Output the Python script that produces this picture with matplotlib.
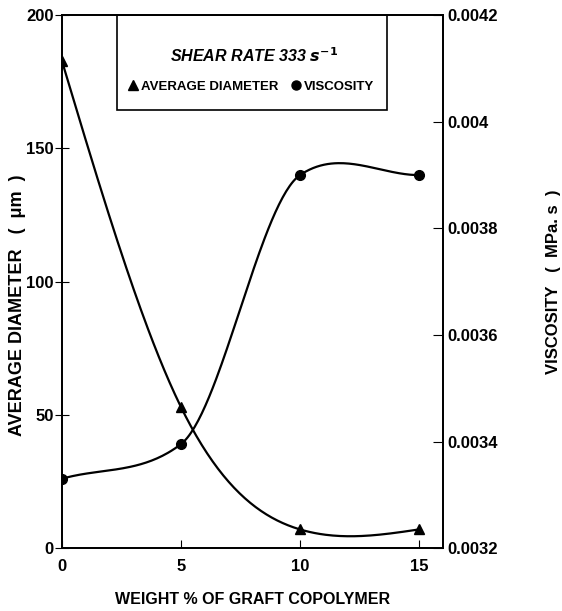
import numpy as np
import matplotlib.pyplot as plt
from matplotlib.lines import Line2D
from matplotlib.patches import Rectangle

# data
weight_pct = [0, 5, 10, 15]
avg_diameter = [183, 53, 7, 7]          # um
viscosity = [0.00333, 0.003395, 0.00390, 0.00390]  # MPa.s


def natural_spline(x, y, n=200):
    # smooth line through the measured points (natural cubic spline)
    x = np.asarray(x, float)
    y = np.asarray(y, float)
    k = len(x)
    h = np.diff(x)
    A = np.zeros((k, k))
    b = np.zeros(k)
    A[0, 0] = A[-1, -1] = 1
    for i in range(1, k - 1):
        A[i, i - 1] = h[i - 1]
        A[i, i] = 2 * (h[i - 1] + h[i])
        A[i, i + 1] = h[i]
        b[i] = 6 * ((y[i + 1] - y[i]) / h[i] - (y[i] - y[i - 1]) / h[i - 1])
    M = np.linalg.solve(A, b)
    xs = np.linspace(x[0], x[-1], n)
    idx = np.clip(np.searchsorted(x, xs) - 1, 0, k - 2)
    x0, x1 = x[idx], x[idx + 1]
    hh = x1 - x0
    t0, t1 = x1 - xs, xs - x0
    ys = (M[idx] * t0**3 + M[idx + 1] * t1**3) / (6 * hh) \
        + (y[idx] / hh - M[idx] * hh / 6) * t0 \
        + (y[idx + 1] / hh - M[idx + 1] * hh / 6) * t1
    return xs, ys


def cardinal_spline(x, y, c=0.6, n=200):
    # hermite curve with tangents from neighbouring points (scaled by c)
    x = np.asarray(x, float)
    y = np.asarray(y, float)
    m = np.zeros_like(y)
    m[1:-1] = c * (y[2:] - y[:-2]) / (x[2:] - x[:-2])
    m[0] = (y[1] - y[0]) / (x[1] - x[0])
    m[-1] = 0.0
    xs = np.linspace(x[0], x[-1], n)
    idx = np.clip(np.searchsorted(x, xs) - 1, 0, len(x) - 2)
    h = x[idx + 1] - x[idx]
    t = (xs - x[idx]) / h
    h00 = 2 * t**3 - 3 * t**2 + 1
    h10 = t**3 - 2 * t**2 + t
    h01 = -2 * t**3 + 3 * t**2
    h11 = t**3 - t**2
    ys = h00 * y[idx] + h10 * h * m[idx] + h01 * y[idx + 1] + h11 * h * m[idx + 1]
    return xs, ys


plt.rcParams['font.family'] = ['Liberation Sans', 'DejaVu Sans']
plt.rcParams['font.weight'] = 'bold'

fig = plt.figure(figsize=(5.62, 6.11), dpi=100)
ax = fig.add_axes([0.110, 0.103, 0.678, 0.872])
ax2 = ax.twinx()

xs, ys = natural_spline(weight_pct, avg_diameter)
ax.plot(xs, ys, color='black', lw=1.6)
ax.plot(weight_pct, avg_diameter, '^', color='black', ms=7)

xs, vs = cardinal_spline(weight_pct, viscosity)
ax2.plot(xs, vs, color='black', lw=1.6)
ax2.plot(weight_pct, viscosity, 'o', color='black', ms=7)

ax.set_xlim(0, 16)
ax.set_ylim(0, 200)
ax2.set_ylim(0.0032, 0.0042)
ax.set_xticks([0, 5, 10, 15])
ax.set_yticks([0, 50, 100, 150, 200])
ax2.set_yticks([0.0032, 0.0034, 0.0036, 0.0038, 0.004, 0.0042])
ax2.set_yticklabels(['0.0032', '0.0034', '0.0036', '0.0038', '0.004', '0.0042'])

ax.tick_params(axis='x', direction='in', length=6, labelsize=12, pad=8)
ax.tick_params(axis='y', direction='inout', length=10, labelsize=12, pad=1)
ax2.tick_params(axis='y', direction='in', length=7, labelsize=12, pad=3)
for a in (ax, ax2):
    for s in a.spines.values():
        s.set_linewidth(1.3)

ax.set_xlabel('WEIGHT % OF GRAFT COPOLYMER', fontsize=11.5, fontweight='bold', labelpad=13)
ax.set_ylabel('AVERAGE DIAMETER   (  μm  )', fontsize=13, fontweight='bold')
ax.yaxis.set_label_coords(-0.093, 0.455)
ax2.set_ylabel('VISCOSITY   (  MPa. s  )', fontsize=12, fontweight='bold')
ax2.yaxis.set_label_coords(1.27, 0.5)

# legend box: frame, title line, then the two series
ax.add_patch(Rectangle((0.144, 0.822), 0.709, 0.178, transform=ax.transAxes,
                       fill=False, edgecolor='black', lw=1.2, zorder=5))
ax.text(0.505, 0.925, 'SHEAR RATE 333 $\\mathit{s}^{-1}$', transform=ax.transAxes,
        ha='center', va='center', fontsize=11.5, fontweight='bold', style='italic')
handles = [
    Line2D([], [], marker='^', color='black', ls='none', ms=6.5, label='AVERAGE DIAMETER'),
    Line2D([], [], marker='o', color='black', ls='none', ms=6.5, label='VISCOSITY'),
]
ax.legend(handles=handles, loc='center', bbox_to_anchor=(0.495, 0.866),
          ncol=2, fontsize=9.5, frameon=False, handletextpad=0.1,
          columnspacing=0.8, handlelength=1.0, borderpad=0)

fig.savefig('out.png', dpi=100)
